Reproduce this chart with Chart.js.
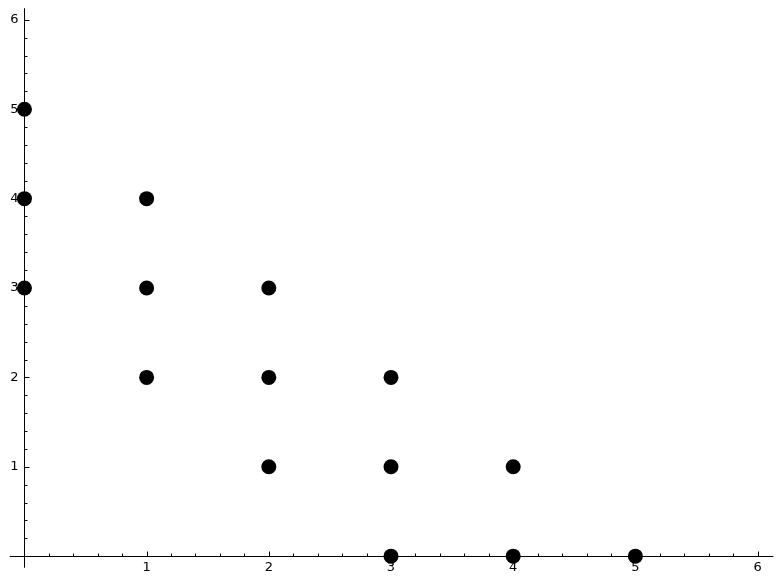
<!DOCTYPE html>
<html>
<head>
<meta charset="utf-8">
<script src="https://cdn.jsdelivr.net/npm/chart.js@4/dist/chart.umd.min.js"></script>
<style>
  html, body { margin: 0; padding: 0; background: #fff; }
  #wrap { width: 782px; height: 582px; }
</style>
</head>
<body>
<div id="wrap"><canvas id="chart" width="782" height="582"></canvas></div>
<script>
const xValues = [0, 0, 0, 1, 1, 1, 2, 2, 2, 3, 3, 3, 4, 4, 5]
const yValues = [5, 4, 3, 4, 3, 2, 3, 2, 1, 2, 1, 0, 1, 0, 0]
const xTicks = [1, 2, 3, 4, 5, 6]
const yTicks = [1, 2, 3, 4, 5, 6]
const minorStep = 0.2

const points = xValues.map((x, i) => ({ x, y: yValues[i] }))

// sage-style axes crossing at the origin, ticks pointing inward
const originAxes = {
  id: "originAxes",
  beforeDatasetsDraw(chart) {
    const { ctx } = chart
    const xs = chart.scales.x
    const ys = chart.scales.y
    const x0 = Math.round(xs.getPixelForValue(0)) + 0.5
    const y0 = Math.round(ys.getPixelForValue(0)) + 0.5

    ctx.save()
    ctx.strokeStyle = "#000"
    ctx.lineWidth = 1
    ctx.beginPath()
    ctx.moveTo(xs.getPixelForValue(-0.12), y0)
    ctx.lineTo(xs.getPixelForValue(6.13), y0)
    ctx.moveTo(x0, ys.getPixelForValue(-0.13))
    ctx.lineTo(x0, ys.getPixelForValue(6.13))

    for (let v = minorStep; v < 6.13; v += minorStep) {
      const major = Math.abs(v - Math.round(v)) < 1e-6
      const len = major ? 5 : 3
      const px = Math.round(xs.getPixelForValue(v)) + 0.5
      ctx.moveTo(px, y0)
      ctx.lineTo(px, y0 - len)
      const py = Math.round(ys.getPixelForValue(v)) + 0.5
      ctx.moveTo(x0, py)
      ctx.lineTo(x0 + len, py)
    }
    ctx.stroke()

    ctx.fillStyle = "#000"
    ctx.font = "13px 'DejaVu Sans'"
    ctx.textAlign = "center"
    ctx.textBaseline = "top"
    xTicks.forEach((t) => {
      ctx.fillText(String(t), xs.getPixelForValue(t), y0 + 5)
    })
    ctx.textAlign = "right"
    ctx.textBaseline = "middle"
    yTicks.forEach((t) => {
      ctx.fillText(String(t), x0 - 6, ys.getPixelForValue(t))
    })
    ctx.restore()
  }
}

new Chart(document.getElementById("chart"), {
  type: "scatter",
  data: {
    datasets: [
      {
        data: points,
        backgroundColor: "#000",
        borderColor: "#000",
        pointRadius: 7.5,
        pointHoverRadius: 7.5,
        borderWidth: 0
      }
    ]
  },
  options: {
    responsive: false,
    animation: false,
    layout: { autoPadding: false, padding: { left: 0, right: 0, top: 2, bottom: 8 } },
    plugins: {
      legend: { display: false },
      tooltip: { enabled: false }
    },
    scales: {
      x: { type: "linear", min: -0.2, max: 6.2, display: false },
      y: { type: "linear", min: -0.2, max: 6.2, display: false }
    }
  },
  plugins: [originAxes]
})
</script>
</body>
</html>
